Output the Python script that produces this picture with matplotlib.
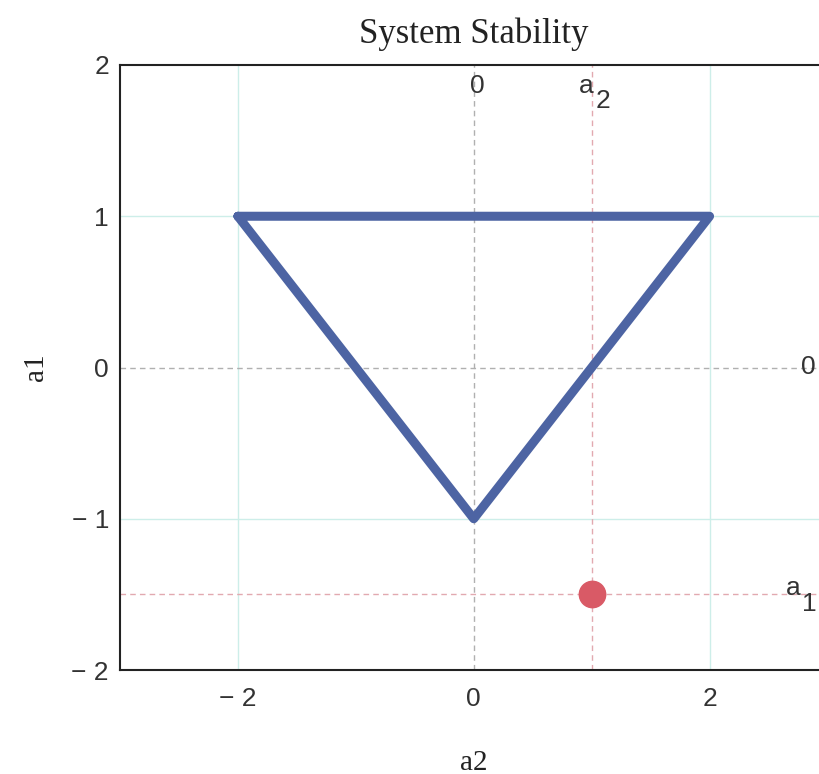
import matplotlib.pyplot as plt

# Datos del grafico
triangle_x = [-2, 2, 0, -2]
triangle_y = [1, 1, -1, 1]
point_a2 = 1
point_a1 = -1.5
x_ticks = [-2, 0, 2]
y_ticks = [-2, -1, 0, 1, 2]

fig = plt.figure(figsize=(8.2, 7.74), dpi=100)
ax = fig.add_axes([120 / 820, 1 - 670 / 774, 707.5 / 820, 605 / 774])

ax.set_xlim(-3, 3)
ax.set_ylim(-2, 2)

# Lineas de la rejilla
grid_col = "#cdeee9"
for gx in [-2, 2]:
    ax.axvline(gx, color=grid_col, lw=1, zorder=0)
for gy in [-1, 1]:
    ax.axhline(gy, color=grid_col, lw=1, zorder=0)
ax.axvline(0, color="#b0b0b0", lw=1, ls=(0, (4, 3)), zorder=0)
ax.axhline(0, color="#b0b0b0", lw=1, ls=(0, (4, 3)), zorder=0)
ax.axvline(point_a2, color="#e2a9b0", lw=1, ls=(0, (4, 3)), zorder=0)
ax.axhline(point_a1, color="#e2a9b0", lw=1, ls=(0, (4, 3)), zorder=0)

# Triangulo de estabilidad y punto del sistema
ax.plot(triangle_x, triangle_y, color="#4d64a3", lw=6.5, solid_joinstyle="round",
        solid_capstyle="round", zorder=3)
ax.plot([point_a2], [point_a1], "o", color="#d95a66", ms=19, zorder=4)

# Etiquetas de las lineas
lab_kw = dict(fontsize=19, family="Liberation Sans", color="#333333")


def sub_label(x, y, base, sub):
    ax.text(x, y, base, ha="right", va="center", **lab_kw)
    ax.annotate(sub, (x, y), xytext=(1, -11), textcoords="offset points",
                ha="left", va="center", **lab_kw)


ax.text(0.03, 1.86, "0", ha="center", va="center", **lab_kw)
sub_label(point_a2 + 0.02, 1.86, "a", "2")
ax.text(2.84, 0, "0", ha="center", va="center", **lab_kw)
sub_label(2.77, point_a1 + 0.04, "a", "1")

ax.set_xticks(x_ticks)
ax.set_yticks(y_ticks)
ax.set_xticklabels([str(v).replace("-", "\u2212 ") for v in x_ticks],
                   family="Liberation Sans", fontsize=19, color="#333333")
ax.set_yticklabels([str(v).replace("-", "\u2212 ") for v in y_ticks],
                   family="Liberation Sans", fontsize=19, color="#333333")
ax.tick_params(length=0, pad=12)
ax.tick_params(axis="y", pad=8)

for side in ["top", "bottom", "left"]:
    ax.spines[side].set_linewidth(1.5)
    ax.spines[side].set_color("#222222")
ax.spines["right"].set_visible(False)

ax.set_title("System Stability", family="Liberation Serif", fontsize=25, pad=16,
             color="#222222")
ax.set_xlabel("a2", family="Liberation Serif", fontsize=21, labelpad=28, color="#222222")
ax.set_ylabel("a1", family="Liberation Serif", fontsize=21, labelpad=16, color="#222222")

fig.savefig("out.png", dpi=100)
